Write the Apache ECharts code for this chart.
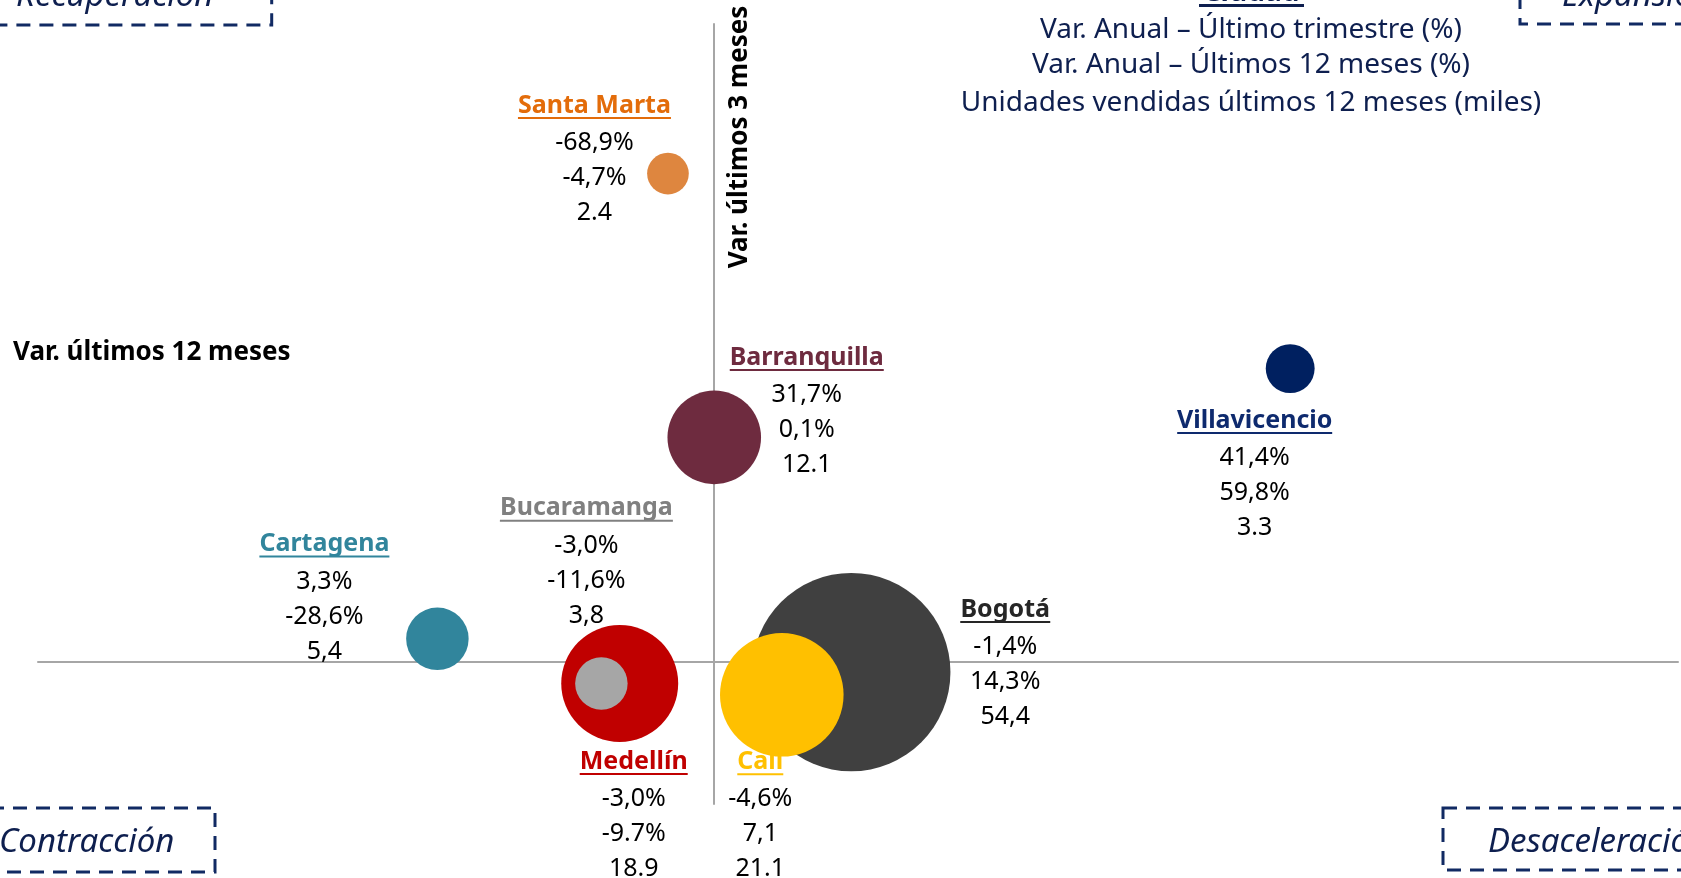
<!DOCTYPE html>
<html>
<head>
<meta charset="utf-8">
<script src="https://cdn.jsdelivr.net/npm/echarts@6/dist/echarts.min.js"></script>
<style>
  html, body { margin: 0; padding: 0; background: #fff; }
  #main { width: 1681px; height: 878px; }
</style>
</head>
<body>
<div id="main"></div>
<script>
// datos por ciudad
var cities = ['Bogotá', 'Medellín', 'Cali', 'Barranquilla', 'Cartagena', 'Bucaramanga', 'Villavicencio', 'Santa Marta'];
var var12m = [14.3, -9.7, 7.1, 0.1, -28.6, -11.6, 59.8, -4.7];   // eje x
var varTrim = [-1.4, -3.0, -4.6, 31.7, 3.3, -3.0, 41.4, 68.9];   // eje y (como está graficado)
var units = [54.4, 18.9, 21.1, 12.1, 5.4, 3.8, 3.3, 2.4];        // tamaño burbuja
// textos tal como aparecen en las etiquetas
var trimText = ['-1,4%', '-3,0%', '-4,6%', '31,7%', '3,3%', '-3,0%', '41,4%', '-68,9%'];
var m12Text = ['14,3%', '-9.7%', '7,1', '0,1%', '-28,6%', '-11,6%', '59,8%', '-4,7%'];
var unitText = ['54,4', '18.9', '21.1', '12.1', '5,4', '3,8', '3.3', '2.4'];
var legendLines = ['Var. Anual – Último trimestre (%)', 'Var. Anual – Últimos 12 meses (%)', 'Unidades vendidas últimos 12 meses (miles)'];

// estilos
var bubbleColors = ['#404040', '#C00000', '#FFC000', '#6E2B3F', '#31859C', '#A6A6A6', '#002060', '#DE863F'];
var titleColors = ['#262626', '#C00000', '#FFC000', '#6E2B3F', '#31859C', '#808080', '#0E2A6E', '#E36C0A'];
var labelOffsets = [[154, -5.5], [14, 135], [-21.5, 124], [92.5, -23], [-113, -37.7], [-15, -118.3], [-35.5, 109], [-73.5, -11]];
var FONT = '"Noto Sans", "Open Sans", sans-serif';
var navy = '#0E1F4F';
var boxColor = '#112A63';

var ctx = document.createElement('canvas').getContext('2d');
ctx.font = 'bold 25px "Noto Sans"';

var data = cities.map(function (c, i) {
    var w = Math.round(ctx.measureText(c).width);
    return {
        name: c,
        value: [var12m[i], varTrim[i], units[i]],
        itemStyle: { color: bubbleColors[i] },
        label: {
            offset: labelOffsets[i],
            formatter: '{t|' + c + '}\n{u| }\n{s| }\n{n|' + trimText[i] + '}\n{n|' + m12Text[i] + '}\n{n|' + unitText[i] + '}',
            rich: {
                t: { fontFamily: FONT, fontSize: 25, fontWeight: 'bold', color: titleColors[i], lineHeight: 22 },
                u: { width: w, height: 2, backgroundColor: titleColors[i], lineHeight: 3, fontSize: 1 },
                s: { fontSize: 1, lineHeight: 6 },
                n: { fontFamily: FONT, fontSize: 25, color: '#000', lineHeight: 35 }
            }
        }
    };
});

function box(x, y, w, h) {
    return {
        type: 'rect', shape: { x: x, y: y, width: w, height: h },
        style: { fill: 'none', stroke: boxColor, lineWidth: 3, lineDash: [14, 9] }
    };
}
function itText(t, x, y) {
    return {
        type: 'text', x: x, y: y,
        style: { text: t, fill: navy, font: 'italic 33px ' + FONT, align: 'left', verticalAlign: 'middle' }
    };
}

var graphics = [
    box(-10, -50, 281.7, 75), itText('Recuperación', 16, -3),
    box(1520, -50, 220, 74), itText('Expansión', 1562, -3),
    box(-10, 808, 225, 64), itText('Contracción', -1, 843),
    box(1443, 808, 300, 62), itText('Desaceleración', 1488, 843),
    {
        type: 'text', x: 13, y: 353,
        style: { text: 'Var. últimos 12 meses', fill: '#000', font: 'bold 26px ' + FONT, align: 'left', verticalAlign: 'middle' }
    },
    {
        type: 'text', x: 740, y: 137, rotation: Math.PI / 2,
        style: { text: 'Var. últimos 3 meses', fill: '#000', font: 'bold 26px ' + FONT, align: 'center', verticalAlign: 'middle' }
    },
    {
        type: 'text', x: 1251, y: -7,
        style: { text: 'Ciudad', fill: navy, font: 'bold 28px ' + FONT, align: 'center', verticalAlign: 'middle' }
    },
    { type: 'rect', shape: { x: 1199, y: 4, width: 105, height: 3 }, style: { fill: navy } }
];
var legendY = [30, 65, 103];
legendLines.forEach(function (t, i) {
    graphics.push({
        type: 'text', x: 1251, y: legendY[i],
        style: { text: t, fill: navy, font: '28px ' + FONT, align: 'center', verticalAlign: 'middle' }
    });
});

var chart = echarts.init(document.getElementById('main'));
chart.setOption({
    animation: false,
    backgroundColor: '#fff',
    grid: { left: 38, right: 3, top: 24, bottom: 74 },
    xAxis: {
        type: 'value', min: -70, max: 100,
        axisLine: { onZero: true, lineStyle: { color: '#A6A6A6', width: 2 } },
        axisTick: { show: false }, axisLabel: { show: false }, splitLine: { show: false }
    },
    yAxis: {
        type: 'value', min: -20, max: 90,
        axisLine: { onZero: true, lineStyle: { color: '#A6A6A6', width: 2 } },
        axisTick: { show: false }, axisLabel: { show: false }, splitLine: { show: false }
    },
    graphic: graphics,
    series: [{
        type: 'scatter',
        data: data,
        symbolSize: function (val) { return 26.9 * Math.sqrt(val[2]); },
        itemStyle: { opacity: 1 },
        label: { show: true, position: 'inside' },
        emphasis: { disabled: true },
        silent: true
    }]
});
</script>
</body>
</html>
